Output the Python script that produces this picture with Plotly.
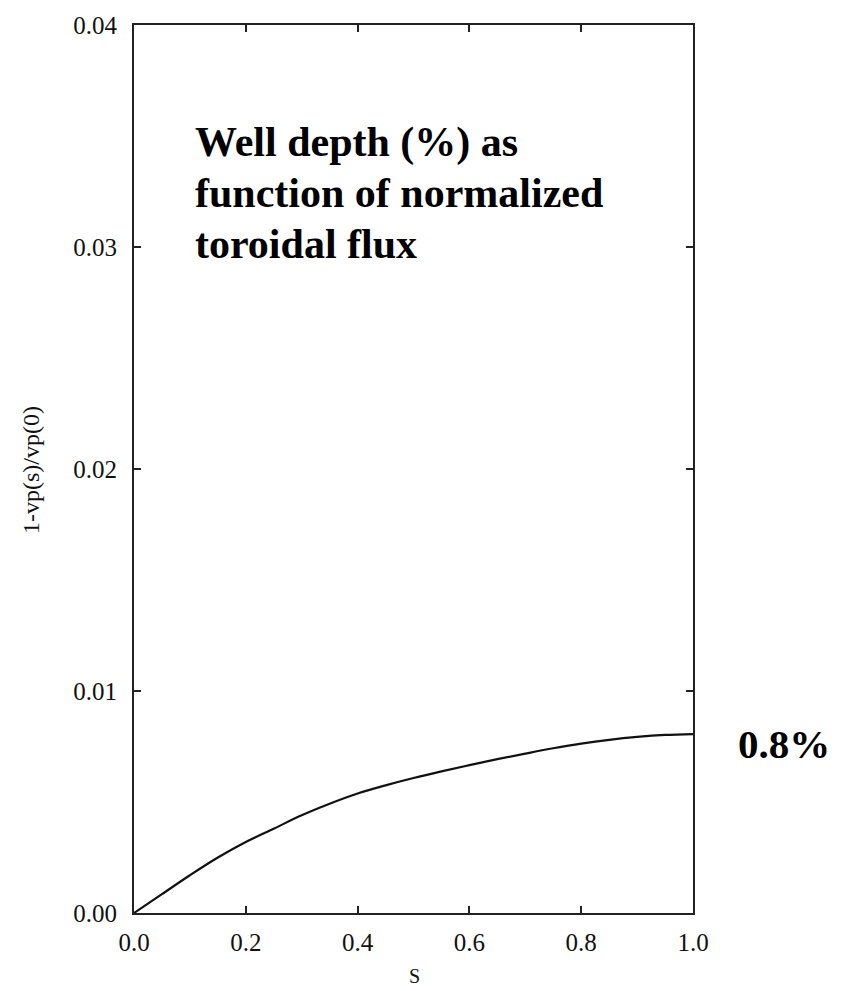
import plotly.graph_objects as go

s_vals = [0, 0.05, 0.1, 0.15, 0.2, 0.25, 0.3, 0.35, 0.4, 0.45, 0.5,
          0.55, 0.6, 0.65, 0.7, 0.75, 0.8, 0.85, 0.9, 0.95, 1.0]
depth = [0, 0.00085, 0.0017, 0.0025, 0.0032, 0.0038, 0.0044, 0.00492, 0.00538,
         0.00575, 0.00608, 0.00638, 0.00666, 0.00693, 0.00718, 0.00742, 0.00763,
         0.00780, 0.00793, 0.00802, 0.00806]
x_ticks = [0.0, 0.2, 0.4, 0.6, 0.8, 1.0]
x_ticktext = ["0.0", "0.2", "0.4", "0.6", "0.8", "1.0"]
y_ticks = [0.0, 0.01, 0.02, 0.03, 0.04]
y_ticktext = ["0.00", "0.01", "0.02", "0.03", "0.04"]

W, H = 842, 991
L, R, T, B = 134, 149, 15, 78
pw, ph = W - L - R, H - T - B

def px(x):
    return (x - L) / pw

def py(y):
    return (H - B - y) / ph

serif = "Liberation Serif, Times New Roman, serif"

fig = go.Figure()
fig.add_trace(go.Scatter(x=s_vals, y=depth, mode="lines",
                         line=dict(color="#111111", width=2.2),
                         line_shape="spline", showlegend=False))

axis_common = dict(showline=True, linewidth=2, linecolor="#222222", mirror="ticks",
                   ticks="inside", ticklen=7, tickwidth=2, tickcolor="#222222",
                   showgrid=False, zeroline=False,
                   tickfont=dict(family=serif, size=25, color="#111111"))

fig.update_xaxes(range=[0, 1], tickvals=x_ticks, ticktext=x_ticktext,
                 ticklabelstandoff=6, **axis_common)
fig.update_yaxes(range=[0, 0.04], tickvals=y_ticks, ticktext=y_ticktext,
                 ticklabelstandoff=10, **axis_common)

lines = ["Well depth (%) as", "function of normalized", "toroidal flux"]
centers = [134, 185, 236]
for t, c in zip(lines, centers):
    fig.add_annotation(text="<b>" + t + "</b>", xref="paper", yref="paper",
                       x=px(193), y=py(c), xanchor="left", yanchor="middle",
                       showarrow=False,
                       font=dict(family=serif, size=42, color="#000000"))

fig.add_annotation(text="<b>0.8%</b>", xref="paper", yref="paper",
                   x=px(784), y=py(742), xanchor="center", yanchor="middle",
                   showarrow=False, font=dict(family=serif, size=41, color="#000000"))

fig.add_annotation(text="1-vp(s)/vp(0)", xref="paper", yref="paper",
                   x=px(31), y=py(465), xanchor="center", yanchor="middle",
                   textangle=-90, showarrow=False,
                   font=dict(family=serif, size=24, color="#111111"))

fig.add_annotation(text="S", xref="paper", yref="paper",
                   x=px(414), y=py(990), xanchor="center", yanchor="bottom",
                   showarrow=False, font=dict(family=serif, size=20, color="#111111"))

fig.update_layout(width=W, height=H, margin=dict(l=L, r=R, t=T, b=B),
                  paper_bgcolor="white", plot_bgcolor="white")

fig.write_html("out.html", config={"displayModeBar": False},
               post_script="document.body.style.margin='0';document.body.style.overflow='hidden';")
